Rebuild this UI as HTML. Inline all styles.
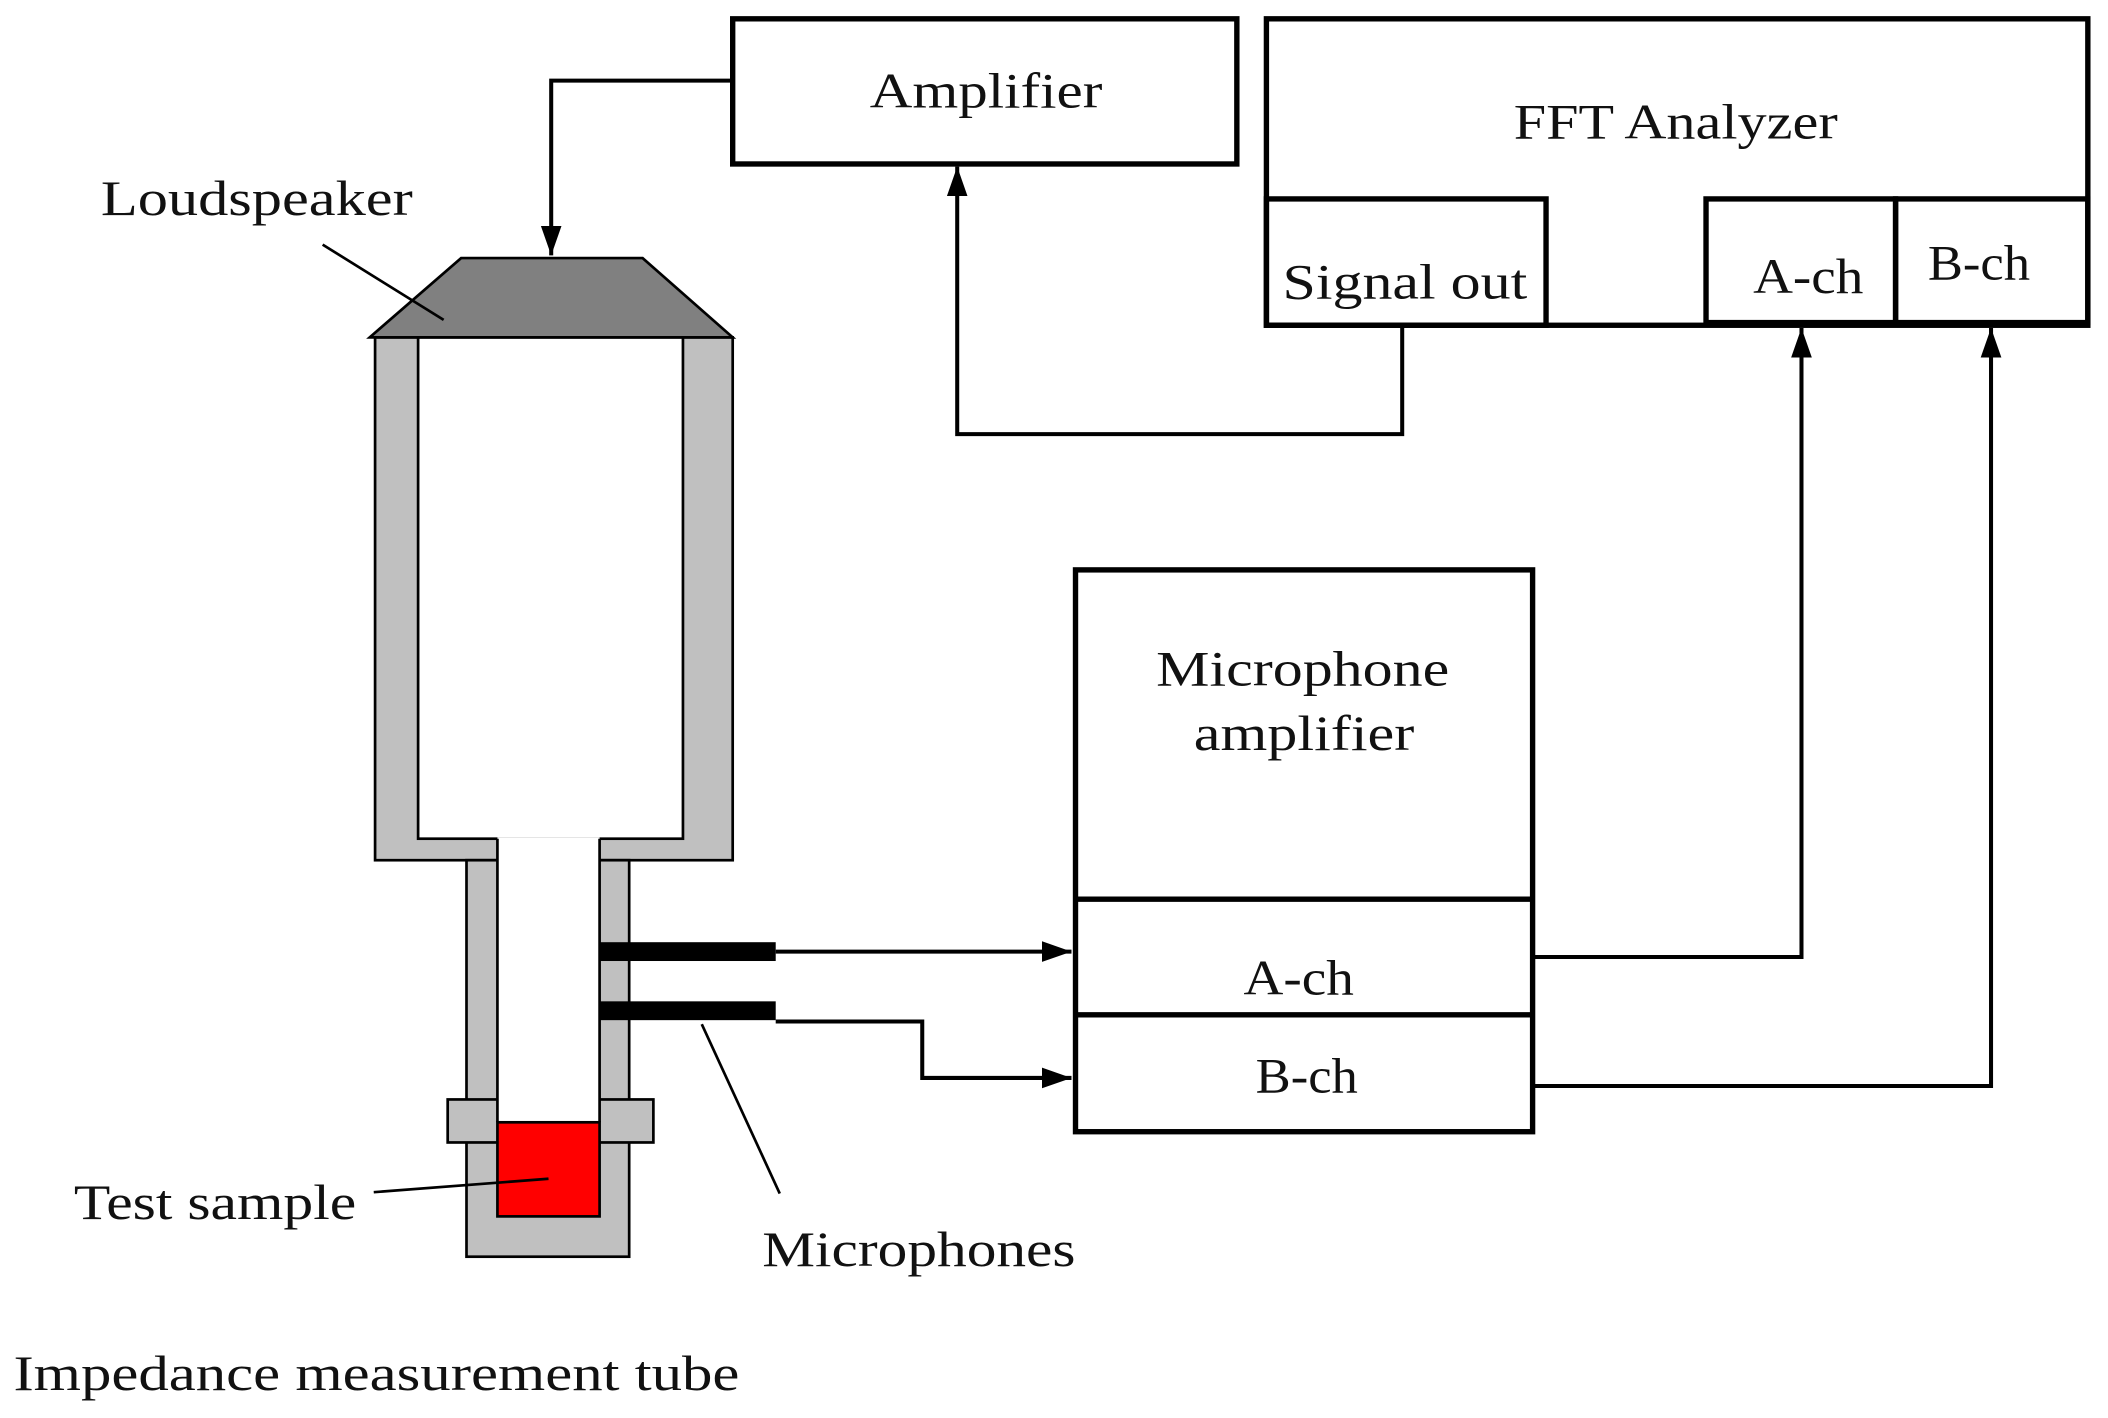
<!DOCTYPE html>
<html><head><style>html,body{margin:0;padding:0;background:#fff}svg{display:block}text{font-family:"Liberation Serif",serif;fill:#111}</style></head>
<body>
<svg width="2108" height="1418" viewBox="0 0 1568 1055" preserveAspectRatio="none" xmlns="http://www.w3.org/2000/svg">
<defs><marker id="b" viewBox="0 0 10 10" refX="10" refY="5" markerWidth="22" markerHeight="22" markerUnits="userSpaceOnUse" orient="auto"><path d="M0,1.5L10,5L0,8.5z" fill="#000"/></marker></defs>
<g fill="none" stroke="#000" stroke-width="4">
<rect x="545" y="14" width="375" height="108"/>
<rect x="942" y="14" width="611" height="228"/>
<rect x="942" y="148" width="208" height="94"/>
<rect x="1269" y="148" width="141" height="92"/>
<rect x="1410" y="148" width="143" height="92"/>
<rect x="800" y="424" width="340" height="418"/>
<line x1="800" y1="669" x2="1140" y2="669"/>
<line x1="800" y1="755" x2="1140" y2="755"/>
</g>
<g fill="none" stroke="#000" stroke-width="3">
<polyline points="545,60 410,60 410,190" marker-end="url(#b)"/>
<polyline points="1043,242 1043,323 712,323 712,124" marker-end="url(#b)"/>
<polyline points="1140,712 1340,712 1340,244" marker-end="url(#b)"/>
<polyline points="1140,808 1481,808 1481,244" marker-end="url(#b)"/>
<polyline points="577,708 797,708" marker-end="url(#b)"/>
<polyline points="577,760 686,760 686,802 797,802" marker-end="url(#b)"/>
</g>
<g stroke="#000" stroke-width="2">
<rect x="279" y="251" width="266" height="389" fill="#c0c0c0"/>
<rect x="347" y="640" width="121" height="295" fill="#c0c0c0"/>
<rect x="333" y="818" width="153" height="32" fill="#c0c0c0"/>
<rect x="311" y="251" width="197" height="373" fill="#fff"/>
<rect x="370" y="623" width="76" height="212" fill="#fff" stroke="none"/>
<line x1="370" y1="624" x2="370" y2="835"/><line x1="446" y1="624" x2="446" y2="835"/>
<rect x="370" y="835" width="76" height="70" fill="#ff0000"/>
<polygon points="343,192 478,192 545,251 275,251" fill="#808080"/>
</g>
<rect x="446" y="701" width="131" height="14" fill="#000"/>
<rect x="446" y="745" width="131" height="14" fill="#000"/>
<g stroke="#000" stroke-width="2">
<line x1="240" y1="182" x2="330" y2="238"/>
<line x1="278" y1="887" x2="408" y2="877"/>
<line x1="522" y1="762" x2="580" y2="888"/>
</g>
<g font-size="37" lengthAdjust="spacingAndGlyphs">
<text x="647" y="80" textLength="173" lengthAdjust="spacingAndGlyphs">Amplifier</text>
<text x="1126" y="103" textLength="241" lengthAdjust="spacingAndGlyphs">FFT Analyzer</text>
<text x="954" y="222" textLength="182" lengthAdjust="spacingAndGlyphs">Signal out</text>
<text x="1304" y="218" textLength="82" lengthAdjust="spacingAndGlyphs">A-ch</text>
<text x="1434" y="208" textLength="76" lengthAdjust="spacingAndGlyphs">B-ch</text>
<text x="860" y="510" textLength="218" lengthAdjust="spacingAndGlyphs">Microphone</text>
<text x="888" y="558" textLength="164" lengthAdjust="spacingAndGlyphs">amplifier</text>
<text x="925" y="740" textLength="82" lengthAdjust="spacingAndGlyphs">A-ch</text>
<text x="934" y="813" textLength="76" lengthAdjust="spacingAndGlyphs">B-ch</text>
<text x="75" y="160" textLength="232" lengthAdjust="spacingAndGlyphs">Loudspeaker</text>
<text x="55" y="907" textLength="210" lengthAdjust="spacingAndGlyphs">Test sample</text>
<text x="567" y="942" textLength="233" lengthAdjust="spacingAndGlyphs">Microphones</text>
<text x="10" y="1034" textLength="540" lengthAdjust="spacingAndGlyphs">Impedance measurement tube</text>
</g>
</svg>
</body></html>
